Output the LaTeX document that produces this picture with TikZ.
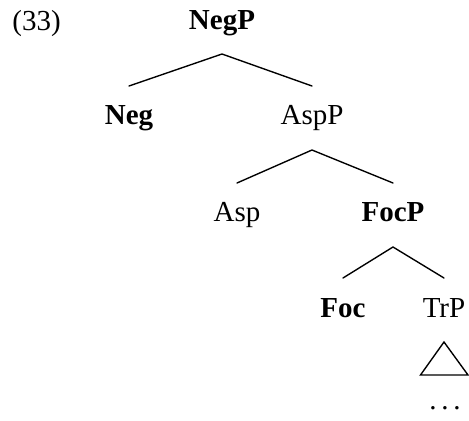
\documentclass[tikz,border=0pt]{standalone}
\usepackage{fontspec}
\setmainfont{Liberation Serif}
\begin{document}
\begin{tikzpicture}[x=0.4pt,y=-0.4pt,
  lab/.style={anchor=base,inner sep=0pt,font=\fontsize{11.6}{14}\selectfont},
  branch/.style={line width=0.55pt,line cap=round,line join=miter}]
\useasboundingbox (0,0) rectangle (469,421);

% example number
\node[lab,anchor=base west] (ex) at (12,30) {(33)};

% tree nodes
\node[lab] (negp) at (222,29)  {\textbf{NegP}};
\node[lab] (neg)  at (129,124) {\textbf{Neg}};
\node[lab] (aspp) at (312,124) {AspP};
\node[lab] (asp)  at (237,221) {Asp};
\node[lab] (focp) at (393,221) {\textbf{FocP}};
\node[lab] (foc)  at (343,317) {\textbf{Foc}};
\node[lab] (trp)  at (444,317) {TrP};
\node[lab] (dots) at (445,409) {.\kern0.16em.\kern0.16em.};

% branches
\draw[branch] (neg.base)  ++(0,-38) coordinate (n1) (negp.base) ++(0,25) coordinate (p1)
  (n1) -- (p1) -- ([yshift=15.2pt]aspp.base);
\draw[branch] ([yshift=15.2pt]asp.base) -- ([yshift=-10.4pt]aspp.base) -- ([yshift=15.2pt]focp.base);
\draw[branch] ([yshift=15.6pt]foc.base) -- ([yshift=-10.4pt]focp.base) -- ([yshift=15.6pt]trp.base);

% roof over the TrP material
\draw[branch] ([yshift=-10pt]trp.base) -- ([xshift=-9.4pt,yshift=-23.2pt]trp.base)
  -- ([xshift=9.6pt,yshift=-23.2pt]trp.base) -- cycle;
\end{tikzpicture}
\end{document}
